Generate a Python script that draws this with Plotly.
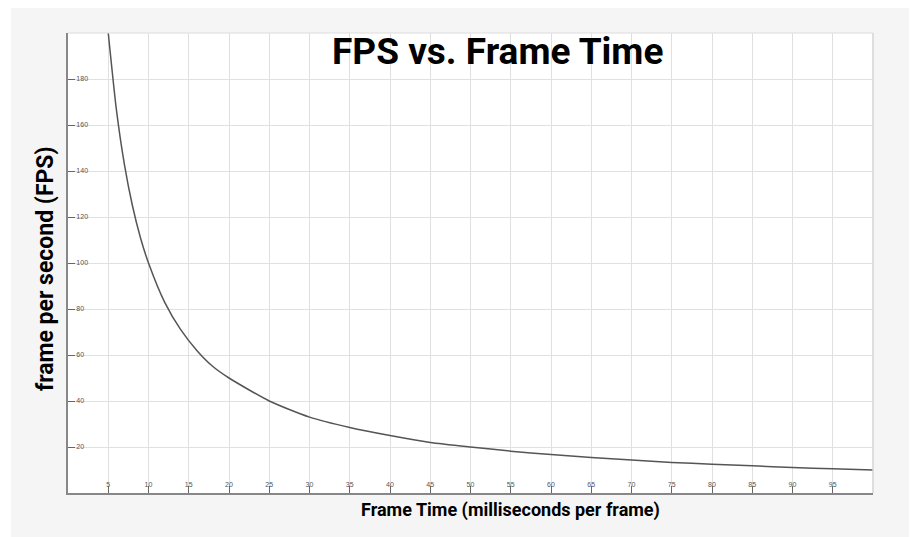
import plotly.graph_objects as go

# Data
frame_time_ms = [5, 6, 7, 8, 9, 10, 12, 14, 16, 18, 20, 25, 30, 35, 40, 45, 50,
                 55, 60, 65, 70, 75, 80, 85, 90, 95, 100]
fps = [200, 167, 143, 125, 111, 100, 83, 71, 62, 55, 50, 40, 33, 28.5, 25, 22, 20,
       18.2, 16.7, 15.4, 14.3, 13.3, 12.5, 11.8, 11.1, 10.5, 10]

x_tick_vals = [5, 10, 15, 20, 25, 30, 35, 40, 45, 50, 55, 60, 65, 70, 75, 80, 85, 90, 95, 100]
x_tick_text = [str(v) for v in x_tick_vals[:-1]] + [""]
y_tick_vals = [20, 40, 60, 80, 100, 120, 140, 160, 180, 200]
y_tick_text = [str(v) for v in y_tick_vals[:-1]] + [""]

title_text = "FPS vs. Frame Time"
x_title = "Frame Time (milliseconds per frame)"
y_title = "frame per second (FPS)"

fig = go.Figure()
fig.add_trace(go.Scatter(
    x=frame_time_ms, y=fps, mode="lines",
    line=dict(color="#555555", width=1.5, shape="spline", smoothing=0.6),
    hoverinfo="skip", showlegend=False,
))

fig.update_layout(
    width=909, height=529,
    margin=dict(l=60, r=44, t=25, b=44),
    paper_bgcolor="#f5f5f5",
    plot_bgcolor="#ffffff",
    showlegend=False,
    xaxis=dict(
        range=[0, 100], tickmode="array", tickvals=x_tick_vals, ticktext=x_tick_text,
        ticks="inside", ticklen=7, tickwidth=1, tickcolor="#666666",
        ticklabelposition="inside", ticklabelstandoff=-4,
        tickfont=dict(family="Liberation Sans, Arial", size=7, color="#555555"),
        showgrid=True, gridcolor="#e0e0e0", gridwidth=1,
        showline=True, linecolor="#888888", linewidth=1.5,
        zeroline=False, fixedrange=True,
    ),
    yaxis=dict(
        range=[0, 200], tickmode="array", tickvals=y_tick_vals, ticktext=y_tick_text,
        ticks="inside", ticklen=7, tickwidth=1, tickcolor="#666666",
        ticklabelposition="inside",
        tickfont=dict(family="Liberation Sans, Arial", size=7, color="#555555"),
        showgrid=True, gridcolor="#e0e0e0", gridwidth=1,
        showline=True, linecolor="#888888", linewidth=1.5,
        zeroline=False, fixedrange=True,
    ),
    shapes=[
        # thin white strip at the left edge of the image
        dict(type="rect", xref="paper", yref="paper", x0=-0.2, x1=-0.0708, y0=-0.2, y1=1.2,
             fillcolor="#ffffff", line=dict(width=0), layer="below"),
        # light top/right borders of the plot area
        dict(type="line", xref="paper", yref="paper", x0=0, x1=1, y0=1, y1=1,
             line=dict(color="#dddddd", width=1)),
        dict(type="line", xref="paper", yref="paper", x0=1, x1=1, y0=0, y1=1,
             line=dict(color="#d5d5d5", width=1.5)),
    ],
    annotations=[
        dict(text=f"<b>{title_text}</b>", xref="paper", yref="paper", x=0.533, y=0.959,
             xanchor="center", yanchor="middle", showarrow=False,
             font=dict(family="Roboto", size=37, color="#000000")),
        dict(text=f"<b>{x_title}</b>", xref="paper", yref="paper", x=0.55, y=-0.037,
             xanchor="center", yanchor="middle", showarrow=False,
             font=dict(family="Roboto", size=18, color="#000000")),
        dict(text=f"<b>{y_title}</b>", xref="paper", yref="paper", x=-0.0286, y=0.489,
             xanchor="center", yanchor="middle", showarrow=False, textangle=-90,
             font=dict(family="Roboto", size=23, color="#000000")),
    ],
)

fig.write_html("out.html")
